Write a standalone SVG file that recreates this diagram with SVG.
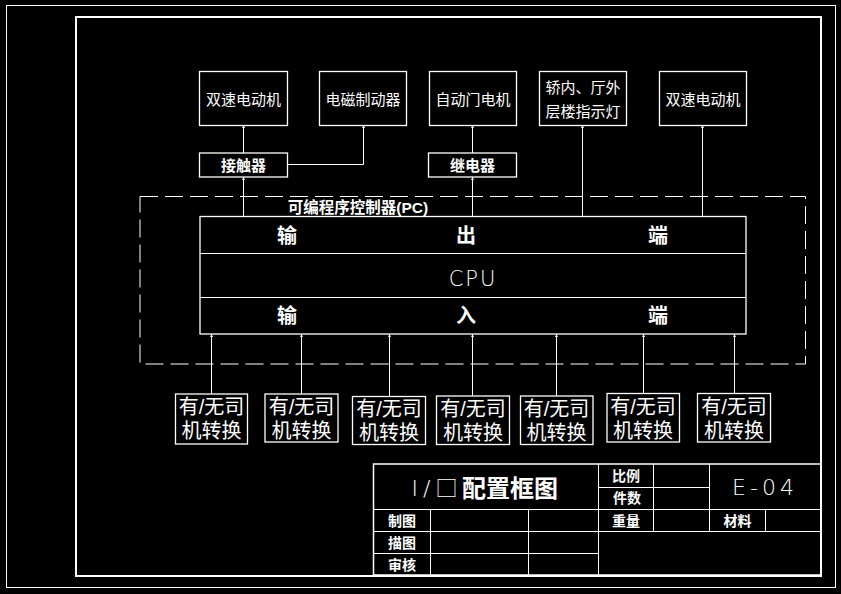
<svg xmlns="http://www.w3.org/2000/svg" width="841" height="594" viewBox="0 0 841 594">
<style>
.ln{stroke:#fff;stroke-width:1;fill:none}
.bx{stroke:#fff;stroke-width:1.3;fill:none}
.t{fill:#fff;font-family:"Liberation Sans","Noto Sans CJK SC",sans-serif;text-anchor:middle;dominant-baseline:central}
.s15{font-size:15px}
.b{font-weight:bold}
.s20{font-size:20px}
.thin{font-family:"DejaVu Sans","Noto Sans CJK SC",sans-serif;font-weight:200}
</style>
<defs>
<marker id="ah" viewBox="0 0 3 3" refX="3" refY="1.5" markerWidth="3" markerHeight="3" orient="auto" markerUnits="userSpaceOnUse">
<path d="M0,0 L3,1.5 L0,3 Z" fill="#fff"/>
</marker>
</defs>
<rect width="841" height="594" fill="#000"/>
<g id="frame">
<rect x="6.5" y="5.5" width="829" height="582" class="ln"/>
<rect x="76" y="17" width="745" height="559" fill="none" stroke="#fff" stroke-width="2"/>
</g>

<g id="connectors">
<path d="M243.5,216 V177" class="ln" marker-end="url(#ah)"/>
<path d="M243.5,153 V125" class="ln" marker-end="url(#ah)"/>
<path d="M287,164.5 H363.5 V125" class="ln" marker-end="url(#ah)"/>
<path d="M472.5,216 V177" class="ln" marker-end="url(#ah)"/>
<path d="M472.5,153 V125" class="ln" marker-end="url(#ah)"/>
<path d="M582.5,216 V125" class="ln" marker-end="url(#ah)"/>
<path d="M702.5,216 V125" class="ln" marker-end="url(#ah)"/>
<path d="M211.5,394 V334" class="ln" marker-end="url(#ah)"/>
<path d="M301.5,394 V334" class="ln" marker-end="url(#ah)"/>
<path d="M389.5,396 V334" class="ln" marker-end="url(#ah)"/>
<path d="M472.5,396 V334" class="ln" marker-end="url(#ah)"/>
<path d="M556.5,396 V334" class="ln" marker-end="url(#ah)"/>
<path d="M643.5,394 V334" class="ln" marker-end="url(#ah)"/>
<path d="M734.5,394 V334" class="ln" marker-end="url(#ah)"/>
</g>

<g id="out1"><rect x="199.5" y="71.5" width="88" height="54" class="bx"/><text x="243.5" y="99" class="t s15">双速电动机</text></g>
<g id="out2"><rect x="319.5" y="71.5" width="87" height="54" class="bx"/><text x="363" y="99" class="t s15">电磁制动器</text></g>
<g id="out3"><rect x="429.5" y="71.5" width="87" height="54" class="bx"/><text x="473" y="99" class="t s15">自动门电机</text></g>
<g id="out4"><rect x="539.5" y="71.5" width="87" height="54" class="bx"/><text x="583" y="87" class="t s15">轿内、厅外</text><text x="583" y="111" class="t s15">层楼指示灯</text></g>
<g id="out5"><rect x="659.5" y="71.5" width="87" height="54" class="bx"/><text x="703" y="99" class="t s15">双速电动机</text></g>

<g id="contactor"><rect x="199.5" y="153" width="88" height="24" class="bx"/><text x="243.5" y="165" class="t s15 b">接触器</text></g>
<g id="relay"><rect x="428.5" y="153" width="88" height="24" class="bx"/><text x="472.5" y="165" class="t s15 b">继电器</text></g>

<g id="plc">
<rect x="140" y="196.5" width="665.5" height="167.5" fill="none" stroke="#fff" stroke-width="1" stroke-dasharray="18 7"/>
<text x="358" y="207" class="t b" font-size="15.5">可编程序控制器(PC)</text>
<rect x="200" y="216.5" width="546" height="117.5" class="bx"/>
<line x1="200" y1="253.5" x2="746" y2="253.5" class="ln"/>
<line x1="200" y1="297.5" x2="746" y2="297.5" class="ln"/>
<text x="287" y="236" class="t s20 b">输</text>
<text x="466" y="236" class="t s20 b">出</text>
<text x="658" y="236" class="t s20 b">端</text>
<text x="473" y="279" class="t thin" font-size="21" letter-spacing="2">CPU</text>
<text x="287" y="316" class="t s20 b">输</text>
<text x="466" y="316" class="t s20 b">入</text>
<text x="658" y="316" class="t s20 b">端</text>
</g>

<g id="in1"><rect x="175.5" y="394" width="72" height="50" class="bx"/><text x="211.5" y="407" class="t s20">有/无司</text><text x="211.5" y="431" class="t s20">机转换</text></g>
<g id="in2"><rect x="265" y="394" width="73" height="48" class="bx"/><text x="301.5" y="407" class="t s20">有/无司</text><text x="301.5" y="431" class="t s20">机转换</text></g>
<g id="in3"><rect x="352.5" y="396.5" width="73" height="48" class="bx"/><text x="389" y="409" class="t s20">有/无司</text><text x="389" y="433" class="t s20">机转换</text></g>
<g id="in4"><rect x="436.5" y="396" width="73" height="48.5" class="bx"/><text x="473" y="409" class="t s20">有/无司</text><text x="473" y="433" class="t s20">机转换</text></g>
<g id="in5"><rect x="520.5" y="396" width="72.5" height="48.5" class="bx"/><text x="556.5" y="409" class="t s20">有/无司</text><text x="556.5" y="433" class="t s20">机转换</text></g>
<g id="in6"><rect x="607" y="393.5" width="72.5" height="48.5" class="bx"/><text x="643" y="407" class="t s20">有/无司</text><text x="643" y="431" class="t s20">机转换</text></g>
<g id="in7"><rect x="697.5" y="393.5" width="73" height="48.5" class="bx"/><text x="734" y="407" class="t s20">有/无司</text><text x="734" y="431" class="t s20">机转换</text></g>

<g id="titleblock">
<rect x="373.5" y="464" width="447.5" height="111" fill="none" stroke="#fff" stroke-width="1.5"/>
<line x1="373.5" y1="509.5" x2="821" y2="509.5" class="ln"/>
<line x1="373.5" y1="531.5" x2="821" y2="531.5" class="ln"/>
<line x1="373.5" y1="553.5" x2="598.5" y2="553.5" class="ln"/>
<line x1="598.5" y1="487.5" x2="709.5" y2="487.5" class="ln"/>
<line x1="598.5" y1="464" x2="598.5" y2="575" class="ln"/>
<line x1="653.5" y1="464" x2="653.5" y2="531.5" class="ln"/>
<line x1="709.5" y1="464" x2="709.5" y2="531.5" class="ln"/>
<line x1="765.5" y1="509.5" x2="765.5" y2="531.5" class="ln"/>
<line x1="430.5" y1="509.5" x2="430.5" y2="575" class="ln"/>
<line x1="528.5" y1="509.5" x2="528.5" y2="575" class="ln"/>
<text x="437" y="488" class="t thin" font-size="22" letter-spacing="5">I/□</text>
<text x="510" y="488" class="t b" font-size="24">配置框图</text>
<text x="626" y="475.5" class="t b" font-size="14">比例</text>
<text x="627" y="498" class="t b" font-size="14">件数</text>
<text x="765" y="487.5" class="t thin" font-size="22" letter-spacing="4">E-04</text>
<text x="402" y="520.5" class="t b" font-size="14">制图</text>
<text x="402" y="542.5" class="t b" font-size="14">描图</text>
<text x="402" y="564.5" class="t b" font-size="14">审核</text>
<text x="626" y="520.5" class="t b" font-size="14">重量</text>
<text x="737.5" y="520.5" class="t b" font-size="14">材料</text>
</g>
</svg>
